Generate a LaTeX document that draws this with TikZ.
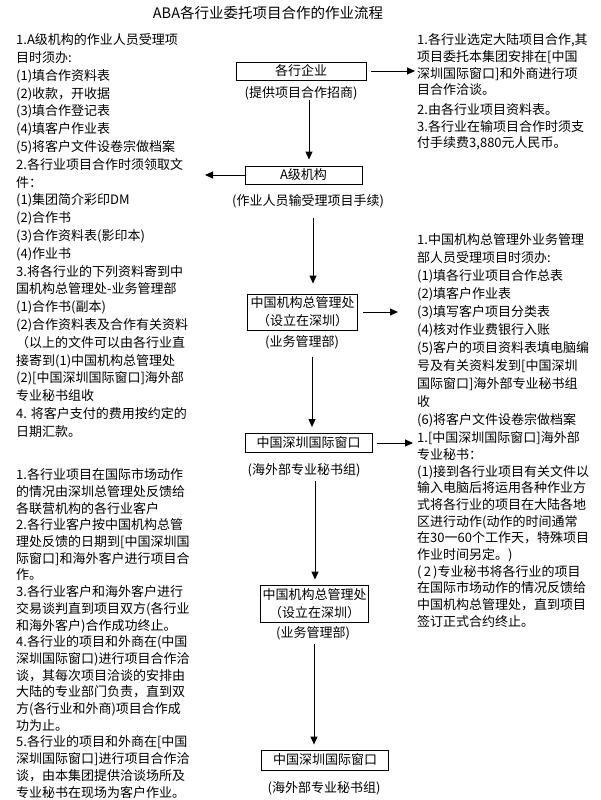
\documentclass[tikz,border=0pt]{standalone}
\usepackage{fontspec}
\newfontfamily\cjk{Noto Sans CJK SC}
\usetikzlibrary{arrows.meta}

\begin{document}
\begin{tikzpicture}[x=1pt,y=-1pt,
    box/.style={draw,fill=white,line width=0.9pt,inner sep=0pt,minimum height=18pt,align=center,font=\cjk\fontsize{13}{18}\selectfont},
    sub/.style={inner sep=0pt,font=\cjk\fontsize{13}{17}\selectfont},
    blk/.style={anchor=north west,align=left,inner sep=0pt,font=\cjk\fontsize{13}{#1}\selectfont},
    arr/.style={line width=0.9pt,-{Triangle[width=7pt,length=8pt]}}]
            \useasboundingbox (0,0) rectangle (600,800);
            \node[inner sep=0pt,font=\cjk\fontsize{14.5}{16}\selectfont] (titre) at (268,13) {ABA各行业委托项目合作的作业流程};
            % centre column
            \node[box,minimum width=130pt] (qiye) at (301,71) {各行企业};
            \node[sub] (qiyesub) at (301,93) {(提供项目合作招商)};
            \node[box,minimum width=117pt] (ajigou) at (303.5,175) {A级机构};
            \node[sub] (ajigousub) at (308,201) {(作业人员输受理项目手续)};
            \node[box,minimum width=110pt,minimum height=36pt] (zongchu) at (302.5,312) {中国机构总管理处\\（设立在深圳）};
            \node[sub] (zongchusub) at (302,342) {(业务管理部)};
            \node[box,minimum width=127pt,minimum height=19pt] (chuangkou) at (308.5,443) {中国深圳国际窗口};
            \node[sub] (chuangkousub) at (304,470) {(海外部专业秘书组)};
            \node[box,minimum width=108pt,minimum height=37pt] (zongchub) at (314.5,603.5) {中国机构总管理处\\（设立在深圳）};
            \node[sub] (zongchubsub) at (313,633) {(业务管理部)};
            \node[box,minimum width=127pt,minimum height=20pt] (chuangkoub) at (325,760) {中国深圳国际窗口};
            \node[sub] (chuangkoubsub) at (324,788) {(海外部专业秘书组)};
            % left column
            \node[blk=17.8] (gauche) at (16,33.5) {1.A级机构的作业人员受理项\\目时须办:\\(1)填合作资料表\\(2)收款，开收据\\(3)填合作登记表\\(4)填客户作业表\\(5)将客户文件设卷宗做档案\\2.各行业项目合作时须领取文\\件：\\(1)集团简介彩印DM\\(2)合作书\\(3)合作资料表(影印本)\\(4)作业书\\3.将各行业的下列资料寄到中\\国机构总管理处-业务管理部\\(1)合作书(副本)\\(2)合作资料表及合作有关资料\\（以上的文件可以由各行业直\\接寄到(1)中国机构总管理处\\(2)[中国深圳国际窗口]海外部\\专业秘书组收\\4. 将客户支付的费用按约定的\\日期汇款。};
            \node[blk=16.7] (gaucheb) at (16,468.5) {1.各行业项目在国际市场动作\\的情况由深圳总管理处反馈给\\各联营机构的各行业客户\\2.各行业客户按中国机构总管\\理处反馈的日期到[中国深圳国\\际窗口]和海外客户进行项目合\\作。\\3.各行业客户和海外客户进行\\交易谈判直到项目双方(各行业\\和海外客户)合作成功终止。\\4.各行业的项目和外商在(中国\\深圳国际窗口)进行项目合作洽\\谈，其每次项目洽谈的安排由\\大陆的专业部门负责，直到双\\方(各行业和外商)项目合作成\\功为止。\\5.各行业的项目和外商在[中国\\深圳国际窗口]进行项目合作洽\\谈，由本集团提供洽谈场所及\\专业秘书在现场为客户作业。};
            % right column
            \node[blk=16.7] (droite) at (417,33.5) {1.各行业选定大陆项目合作,其\\项目委托本集团安排在[中国\\深圳国际窗口]和外商进行项\\目合作洽谈。\\[3pt]2.由各行业项目资料表。\\3.各行业在输项目合作时须支\\付手续费3,880元人民币。};
            \node[blk=18] (droitem) at (417,233.5) {1.中国机构总管理外业务管理\\部人员受理项目时须办:\\(1)填各行业项目合作总表\\(2)填客户作业表\\(3)填写客户项目分类表\\(4)核对作业费银行入账\\(5)客户的项目资料表填电脑编\\号及有关资料发到[中国深圳\\国际窗口]海外部专业秘书组\\收\\(6)将客户文件设卷宗做档案};
            \node[blk=16.7] (droiteb) at (417,431.5) {1.[中国深圳国际窗口]海外部\\专业秘书：\\(1)接到各行业项目有关文件以\\输入电脑后将运用各种作业方\\式将各行业的项目在大陆各地\\区进行动作(动作的时间通常\\在30一60个工作天，特殊项目\\作业时间另定。)\\(\,2\,)专业秘书将各行业的项目\\在国际市场动作的情况反馈给\\中国机构总管理处，直到项目\\签订正式合约终止。};
            % arrows
            \coordinate (gpointe) at (205,175);
            \draw[arr,shorten >=6pt] ([xshift=8pt]qiyesub.south) -- ([xshift=5.5pt]ajigou.north);
            \draw[arr,shorten <=10pt,shorten >=10pt] ([xshift=5pt]ajigousub.south) -- ([xshift=10.5pt]zongchu.north);
            \draw[arr,shorten <=8pt,shorten >=6pt] ([xshift=10pt]zongchusub.south) -- ([xshift=3.5pt]chuangkou.north);
            \draw[arr,shorten <=4pt,shorten >=5pt] ([xshift=11pt]chuangkousub.south) -- ([xshift=0.5pt]zongchub.north);
            \draw[arr,shorten <=4pt,shorten >=5pt] ([xshift=1pt]zongchubsub.south) -- ([xshift=-11pt]chuangkoub.north);
            \draw[arr,shorten <=5pt,shorten >=2pt] (qiye) -- (qiye -| droite.west);
            \draw[arr] (ajigou) -- (gpointe);
            \draw[arr,shorten <=5pt,shorten >=19pt] (zongchu) -- (zongchu -| droitem.west);
            \draw[arr,shorten <=5pt,shorten >=4pt] (chuangkou) -- (chuangkou -| droiteb.west);
        \end{tikzpicture}
\end{document}
